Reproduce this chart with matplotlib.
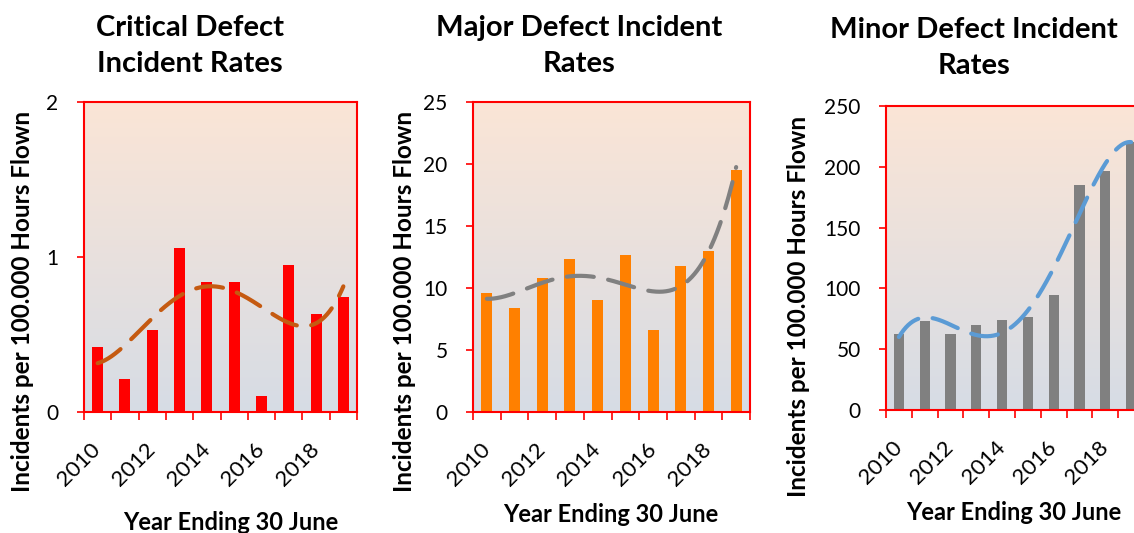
import numpy as np
import matplotlib
matplotlib.use('Agg')
import matplotlib.pyplot as plt
from matplotlib.colors import LinearSegmentedColormap

plt.rcParams['font.family'] = ['Lato', 'DejaVu Sans']

years = np.arange(2010, 2020)
year_labels = ['2010', '2012', '2014', '2016', '2018']

critical = [0.42, 0.21, 0.53, 1.06, 0.84, 0.84, 0.105, 0.95, 0.63, 0.74]
major = [9.58, 8.37, 10.84, 12.31, 9.04, 12.66, 6.63, 11.8, 12.98, 19.55]
minor = [62.2, 73.5, 62.5, 69.9, 74.3, 76.2, 94.3, 185.3, 196.3, 220.0]

W, H = 1134, 533
fig = plt.figure(figsize=(W / 100, H / 100), dpi=100)

bg = LinearSegmentedColormap.from_list('bg', ['#D6DCE5', '#FBE5D6'])


def px_axes(left, top, right, bottom):
    # place an axes from pixel edges (y measured from the top)
    return fig.add_axes([left / W, 1 - bottom / H, (right - left) / W, (bottom - top) / H])


def draw_panel(ax, values, bar_color, trend_color, ymax, ystep):
    x = np.arange(len(values))
    ax.imshow(np.linspace(0, 1, 256).reshape(-1, 1), cmap=bg, origin='lower',
              extent=[-0.5, len(values) - 0.5, 0, ymax], aspect='auto', zorder=0)
    ax.bar(x, values, width=0.4, color=bar_color, zorder=2)

    # 4th order polynomial trend line
    xs = np.linspace(0, len(values) - 1, 300)
    coef = np.polyfit(x, values, 4)
    ax.plot(xs, np.polyval(coef, xs), color=trend_color, lw=3,
            linestyle=(0, (6.5, 3.5)), dash_capstyle='round', zorder=3)

    ax.set_xlim(-0.5, len(values) - 0.5)
    ax.set_ylim(0, ymax)
    for s in ax.spines.values():
        s.set_color('red')
        s.set_linewidth(1.5)

    ax.set_xticks(np.arange(-0.5, len(values), 1))
    ax.set_xticklabels([])
    ax.set_xticks([0, 2, 4, 6, 8], minor=True)
    ax.set_xticklabels(year_labels, minor=True, rotation=45, ha='right', va='center',
                       rotation_mode='anchor', fontsize=16)
    ax.tick_params(axis='x', which='major', direction='out', length=5.5, width=1.2, color='red')
    ax.tick_params(axis='x', which='minor', length=0, pad=25)

    ax.set_yticks(np.arange(0, ymax + ystep / 2, ystep))
    ax.tick_params(axis='y', direction='out', length=5.3, width=1.2, color='red',
                   pad=13, labelsize=15)


ax1 = px_axes(84, 102, 357, 412)
draw_panel(ax1, critical, '#FF0000', '#C55A11', 2, 1)
ax2 = px_axes(473, 102, 750, 412)
draw_panel(ax2, major, '#FF8000', '#808080', 25, 5)
ax3 = px_axes(886, 106, 1144, 410)
draw_panel(ax3, minor, '#808080', '#5B9BD5', 250, 50)

titles = [(190, 46, 'Critical Defect\nIncident Rates'),
          (579, 46, 'Major Defect Incident\nRates'),
          (974, 48, 'Minor Defect Incident\nRates')]
for tx, ty, t in titles:
    fig.text(tx / W, 1 - ty / H, t, ha='center', va='center', fontsize=21,
             fontweight='bold', linespacing=1.5)

for lx, ly in [(23, 301), (404, 301), (799, 306)]:
    fig.text(lx / W, 1 - ly / H, 'Incidents per 100.000 Hours Flown', rotation=90,
             ha='center', va='center', fontsize=17.5, fontweight='bold')

for lx, ly in [(231, 523), (611, 515), (1014, 512)]:
    fig.text(lx / W, 1 - ly / H, 'Year Ending 30 June', ha='center', va='center',
             fontsize=17, fontweight='bold')

fig.savefig('out.png', dpi=100)
